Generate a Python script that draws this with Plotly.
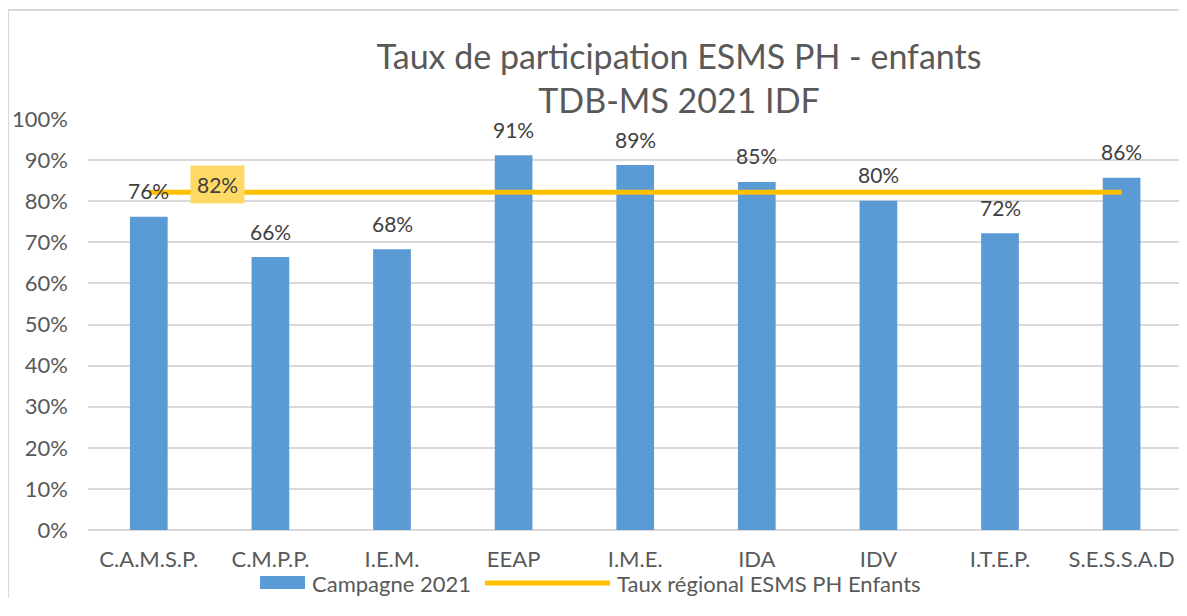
import plotly.graph_objects as go

categories = ["C.A.M.S.P.", "C.M.P.P.", "I.E.M.", "EEAP", "I.M.E.", "IDA", "IDV", "I.T.E.P.", "S.E.S.S.A.D"]
campagne_2021 = [0.762, 0.664, 0.683, 0.912, 0.888, 0.847, 0.801, 0.722, 0.857]
taux_regional = [0.822] * len(categories)
bar_labels = ["76%", "66%", "68%", "91%", "89%", "85%", "80%", "72%", "86%"]
regional_label = "82%"
y_ticks = [i / 10 for i in range(11)]
y_tick_text = [f"{i*10}%" for i in range(11)]
series_names = ["Campagne 2021", "Taux régional ESMS PH Enfants"]

FONT = "Lato"
TXT = "#595959"
BLUE = "#5B9BD5"
GOLD = "#FFC000"
FS = 22

fig = go.Figure()
fig.add_trace(go.Bar(
    x=categories, y=campagne_2021, name=series_names[0],
    marker=dict(color=BLUE, line=dict(width=0)),
    width=0.31,
))
fig.add_trace(go.Scatter(
    x=categories, y=taux_regional, name=series_names[1],
    mode="lines", line=dict(color=GOLD, width=5),
))

annotations = []
for c, v, t in zip(categories, campagne_2021, bar_labels):
    annotations.append(dict(x=c, y=v, text=t, showarrow=False, yanchor="middle",
                            yshift=26, font=dict(family=FONT, size=21, color="#404040")))
annotations.append(dict(x=categories[0], y=taux_regional[0], text=regional_label, showarrow=False,
                        xshift=69, yshift=8, bgcolor="#FFD966", borderpad=6,
                        font=dict(family=FONT, size=21, color="#404040")))
# legend entries (custom, to match wide legend keys)
annotations.append(dict(xref="paper", yref="paper", x=0.2035, y=-0.129, text=series_names[0],
                        showarrow=False, xanchor="left", yanchor="middle",
                        font=dict(family=FONT, size=FS, color=TXT)))
annotations.append(dict(xref="paper", yref="paper", x=0.4830, y=-0.129, text=series_names[1],
                        showarrow=False, xanchor="left", yanchor="middle",
                        font=dict(family=FONT, size=FS, color=TXT)))

shapes = [
    dict(type="rect", xref="paper", yref="paper", x0=-0.0733, x1=1.05, y0=-0.5, y1=1.265,
         line=dict(color="#D9D9D9", width=2), layer="below"),
    dict(type="rect", xref="paper", yref="paper", x0=0.1577, x1=0.1989, y0=-0.1436, y1=-0.1119,
         fillcolor=BLUE, line=dict(width=0)),
    dict(type="line", xref="paper", yref="paper", x0=0.3639, x1=0.4785, y0=-0.129, y1=-0.129,
         line=dict(color=GOLD, width=5)),
]

fig.update_layout(
    width=1171, height=590,
    margin=dict(l=80, r=0, t=111, b=68, autoexpand=False),
    paper_bgcolor="white", plot_bgcolor="white",
    title=dict(text="Taux de participation ESMS PH - enfants<br>TDB-MS 2021 IDF",
               x=671 / 1171, xanchor="center", y=1 - 60.5 / 590, yanchor="middle",
               font=dict(family=FONT, size=34, color=TXT)),
    font=dict(family=FONT, color=TXT),
    showlegend=False,
    annotations=annotations,
    shapes=shapes,
)
fig.update_xaxes(range=[-0.5, 8.472], showgrid=False, showline=False, ticks="", automargin=False,
                 tickfont=dict(family=FONT, size=FS, color=TXT), ticklabelstandoff=14)
fig.update_yaxes(range=[0, 1], tickvals=y_ticks, ticktext=y_tick_text, automargin=False,
                 showgrid=True, gridcolor="#D9D9D9", gridwidth=2, zeroline=True,
                 zerolinecolor="#D9D9D9", zerolinewidth=2, showline=False, ticks="",
                 tickfont=dict(family=FONT, size=FS, color=TXT), ticklabelstandoff=19)

fig.write_html("out.html")
